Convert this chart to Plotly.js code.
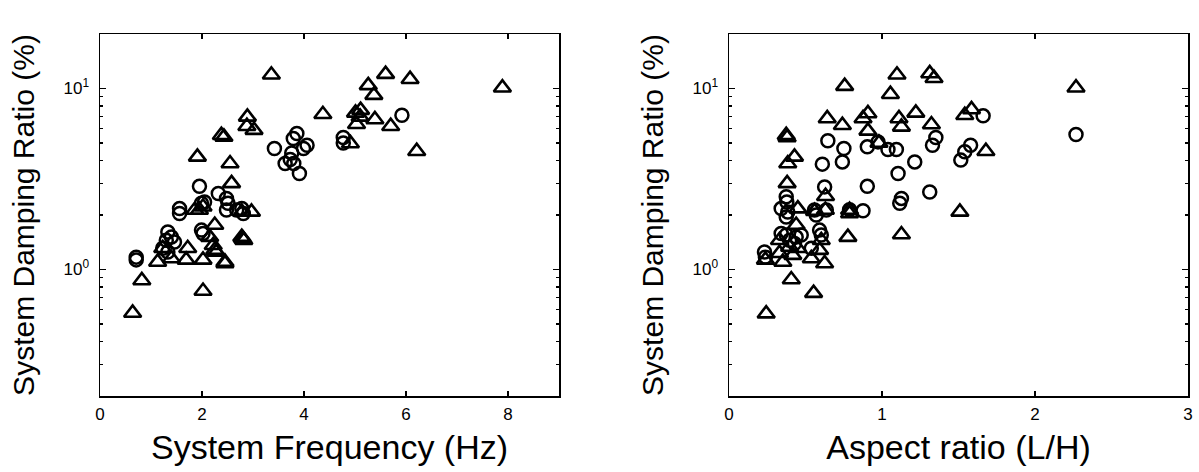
<!DOCTYPE html>
<html>
<head>
<meta charset="utf-8">
<script src="https://cdn.plot.ly/plotly-3.0.1.min.js"></script>
<style>html,body{margin:0;padding:0;background:#fff;}#chart{width:1199px;height:472px;}</style>
</head>
<body>
<div id="chart"></div>
<script>
// ---- Left panel: System Frequency (Hz) vs damping ratio (%) ----
const freqTriX = [3.36,4.37,2.89,2.88,3.02,2.38,2.43,1.91,2.55,2.58,
  5.60,6.08,7.89,5.26,5.37,5.01,5.11,5.10,5.03,5.39,5.70,4.91,6.21,
  1.86,1.95,2.02,2.78,2.97,2.78,2.80,2.82,
  2.25,2.15,2.22,2.25,2.28,1.72,1.13,1.40,1.69,2.02,2.45,2.45,1.23,
  0.82,2.02,0.64];
const freqTriY = [11.9,7.2,6.97,6.19,5.89,5.52,5.4,4.19,3.85,2.99,
  12.0,11.25,10.1,10.4,9.19,7.33,7.59,6.97,6.35,6.74,6.19,4.97,4.5,
  2.13,2.13,2.22,2.08,2.08,1.51,1.48,1.45,
  1.76,1.51,1.36,1.28,1.25,1.31,1.10,1.15,1.13,1.13,1.10,1.08,1.31,
  0.87,0.76,0.575];
const freqCirX = [3.42,3.86,3.79,4.06,3.99,3.76,3.73,3.63,3.80,3.91,
  4.77,4.77,5.92,
  1.95,2.32,2.48,2.51,1.56,1.56,1.99,2.05,2.48,2.68,2.78,2.81,
  1.99,2.02,1.33,1.40,1.46,1.30,1.23,1.33,0.71,0.71];
const freqCirY = [4.66,5.64,5.29,4.86,4.66,4.4,4.05,3.85,3.85,3.39,
  5.36,5.0,7.12,
  2.88,2.63,2.47,2.32,2.17,2.04,2.32,2.36,2.13,2.13,2.17,2.04,
  1.65,1.58,1.61,1.51,1.42,1.45,1.31,1.25,1.17,1.13];

// ---- Right panel: Aspect ratio (L/H) vs damping ratio (%) ----
const aspTriX = [0.756,1.098,1.312,1.34,1.055,0.642,0.741,0.876,0.908,0.908,1.111,1.127,1.221,1.323,0.98,
  0.374,0.38,0.428,0.384,0.38,0.631,0.788,0.788,
  2.268,1.541,1.585,1.679,1.509,
  0.45,0.559,0.63,0.33,0.396,0.45,0.417,0.603,0.592,0.538,0.625,0.352,0.238,0.777,1.127,
  0.407,0.553,0.243,0.439,0.33];
const aspTriY = [10.3,11.9,12.1,11.4,9.3,6.83,6.27,6.83,7.28,5.83,6.83,6.14,7.33,6.32,5.0,
  5.52,5.36,4.19,3.85,2.99,2.54,2.13,2.04,
  10.1,7.12,7.66,4.5,2.08,
  2.17,2.1,2.13,1.45,1.33,1.31,1.2,1.45,1.28,1.15,1.08,1.10,1.13,1.51,1.56,
  0.88,0.74,0.57,1.76,1.23];
const aspCirX = [0.646,0.751,0.741,0.61,0.904,0.974,1.039,1.094,1.214,1.105,1.33,1.352,
  0.625,0.904,1.312,1.127,1.116,0.374,0.378,0.341,0.384,0.374,0.559,0.57,0.636,0.788,0.876,
  2.268,1.661,1.579,1.541,1.515,
  0.341,0.374,0.396,0.439,0.472,0.428,0.592,0.603,0.538,0.232,0.238];
const aspCirY = [5.14,4.66,3.93,3.82,4.76,5.07,4.6,4.6,3.93,3.39,4.86,5.36,
  2.86,2.88,2.68,2.47,2.32,2.52,2.36,2.17,2.08,1.95,2.13,2.0,2.13,2.14,2.11,
  5.57,7.06,4.86,4.47,4.02,
  1.58,1.55,1.45,1.51,1.55,1.39,1.65,1.55,1.31,1.25,1.17];

const leftTicks = [0,2,4,6,8];
const rightTicks = [0,1,2,3];
const yMajor = [1,10];
const yMajorText = ['10<sup>0</sup>','10<sup>1</sup>'];
const yMinor = [0.2,0.3,0.4,0.5,0.6,0.7,0.8,0.9,2,3,4,5,6,7,8,9,20];

const triMarker = {symbol:'triangle-up-open', size:15, color:'#000', line:{color:'#000', width:2.6}};
const cirMarker = {symbol:'circle-open', size:13, color:'#000', line:{color:'#000', width:2.5}};

const traces = [
  {x:freqTriX, y:freqTriY, type:'scatter', mode:'markers', marker:triMarker, xaxis:'x', yaxis:'y', cliponaxis:false},
  {x:freqCirX, y:freqCirY, type:'scatter', mode:'markers', marker:cirMarker, xaxis:'x', yaxis:'y', cliponaxis:false},
  {x:aspTriX, y:aspTriY, type:'scatter', mode:'markers', marker:triMarker, xaxis:'x2', yaxis:'y2', cliponaxis:false},
  {x:aspCirX, y:aspCirY, type:'scatter', mode:'markers', marker:cirMarker, xaxis:'x2', yaxis:'y2', cliponaxis:false}
];

const font = {family:'"Liberation Sans", Arial, Helvetica, sans-serif', color:'#000'};
const tickFont = {family:font.family, size:17, color:'#000'};
const xTitleFont = {family:font.family, size:34, color:'#000'};
const yTitleFont = {family:font.family, size:30, color:'#000'};

function xAxis(domain, range, ticks, title){
  return {domain:domain, range:range, tickvals:ticks, ticktext:ticks.map(String),
    ticks:'inside', ticklen:5, tickwidth:1.2, tickcolor:'#000', ticklabelstandoff:2,
    showline:true, linecolor:'#000', linewidth:1.5, mirror:'ticks',
    showgrid:false, zeroline:false, tickfont:tickFont,
    title:{text:title, font:xTitleFont, standoff:12}, automargin:false, fixedrange:true};
}
function yAxis(domain, anchor){
  return {domain:domain, type:'log', range:[Math.log10(0.2), Math.log10(20)], anchor:anchor,
    tickvals:yMajor, ticktext:yMajorText,
    ticks:'inside', ticklen:6, tickwidth:1.2, tickcolor:'#000', ticklabelstandoff:6,
    minor:{tickvals:yMinor, ticks:'inside', ticklen:3, tickwidth:1.2, tickcolor:'#000', showgrid:false},
    showline:true, linecolor:'#000', linewidth:1.5, mirror:'ticks',
    showgrid:false, zeroline:false, tickfont:tickFont,
    title:{text:'System Damping Ratio (%)', font:yTitleFont, standoff:20}, automargin:false, fixedrange:true};
}

const yDom = [1-396/472, 1-34/472];
const layout = {
  width:1199, height:472,
  margin:{l:0, r:0, t:0, b:0},
  paper_bgcolor:'#fff', plot_bgcolor:'#fff',
  showlegend:false, font:font,
  xaxis: xAxis([100/1199, 559/1199], [0,9], leftTicks, 'System Frequency (Hz)'),
  yaxis: yAxis(yDom, 'x'),
  xaxis2: Object.assign(xAxis([729/1199, 1188/1199], [0,3], rightTicks, 'Aspect ratio (L/H)'), {anchor:'y2'}),
  yaxis2: yAxis(yDom, 'x2')
};
layout.xaxis.anchor = 'y';

Plotly.newPlot('chart', traces, layout, {staticPlot:true, displayModeBar:false});
</script>
</body>
</html>
